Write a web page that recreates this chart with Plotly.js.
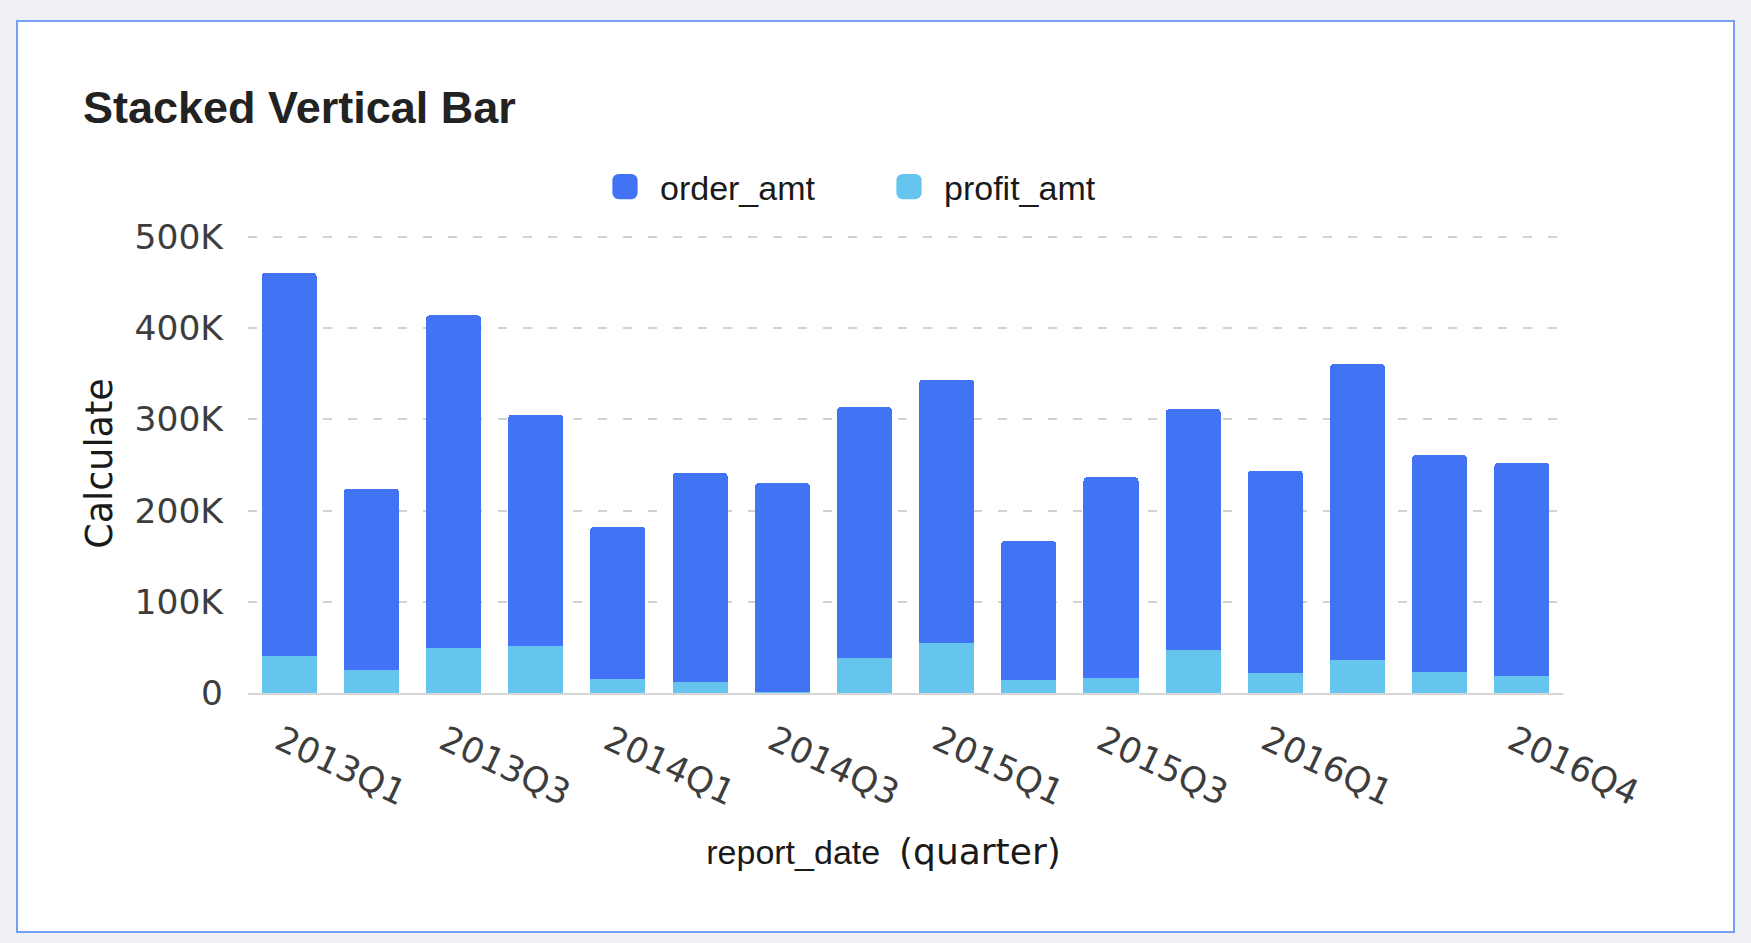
<!DOCTYPE html>
<html>
<head>
<meta charset="utf-8">
<script src="https://cdn.plot.ly/plotly-3.0.1.min.js"></script>
<style>
  html, body { margin: 0; padding: 0; width: 1751px; height: 943px; background: #eef0f4; overflow: hidden; }
  #card { position: absolute; left: 16px; top: 20px; width: 1715px; height: 909px; background: #ffffff; border: 2px solid #76a0f4; }
  #chart { position: absolute; left: 0; top: 0; width: 1751px; height: 943px; }
</style>
</head>
<body>
<div id="card"></div>
<div id="chart"></div>
<script>
// ---- data ----
const quarters = ['2013Q1','2013Q2','2013Q3','2013Q4','2014Q1','2014Q2','2014Q3','2014Q4',
                  '2015Q1','2015Q2','2015Q3','2015Q4','2016Q1','2016Q2','2016Q3','2016Q4'];
const orderAmt = [420100, 199100, 364400, 253900, 166400, 229400, 228400, 274900,
                  288000, 152600, 219900, 264200, 221700, 324600, 237900, 233800];
const profitAmt = [40300, 24900, 49400, 51300, 15800, 12100, 1500, 38400,
                   55300, 13900, 16500, 46900, 22000, 35900, 22700, 18300];
const yTickVals = [0, 100000, 200000, 300000, 400000, 500000];
const yTickText = ['0', '100K', '200K', '300K', '400K', '500K'];
const xTickVals = ['2013Q1','2013Q3','2014Q1','2014Q3','2015Q1','2015Q3','2016Q1','2016Q4'];

const W = 1751, H = 943;
const NB = '\u00a0';

const traces = [
  { type: 'bar', name: 'profit_amt', x: quarters, y: profitAmt,
    marker: { color: '#65c5ef' }, hoverinfo: 'x+y+name' },
  { type: 'bar', name: 'order_amt', x: quarters, y: orderAmt,
    marker: { color: '#4373f5' }, hoverinfo: 'x+y+name' }
];

const layout = {
  width: W, height: H,
  paper_bgcolor: 'rgba(0,0,0,0)', plot_bgcolor: 'rgba(0,0,0,0)',
  margin: { l: 248, r: 188, t: 234, b: 250, pad: 0 },
  barmode: 'stack', bargap: 0.33, barcornerradius: 4,
  title: {
    text: 'Stacked Vertical Bar',
    font: { family: 'Liberation Sans', size: 45, color: '#222222', weight: 'bold' },
    xref: 'container', yref: 'container', x: 83 / W, xanchor: 'left',
    y: 1 - 107 / H, yanchor: 'middle'
  },
  legend: {
    orientation: 'h', traceorder: 'reversed',
    xref: 'container', yref: 'container',
    x: 590 / W, xanchor: 'left', y: 1 - 187 / H, yanchor: 'middle',
    font: { family: 'Liberation Sans', size: 34, color: '#1a1a1a' },
    itemwidth: 60,
    entrywidth: 209, entrywidthmode: 'pixels', bgcolor: 'rgba(0,0,0,0)'
  },
  xaxis: {
    type: 'category', categoryorder: 'array', categoryarray: quarters,
    tickmode: 'array', tickvals: xTickVals, ticktext: xTickVals,
    tickangle: 25, tickfont: { family: 'DejaVu Sans', size: 35, color: '#3d3d3d' },
    ticks: '', showgrid: false,
    showline: true, linecolor: '#d6d6d6', linewidth: 2,
    ticklabelstandoff: 12, ticklabelshift: -9,
    title: {
      text: 'report_date' + NB + NB + '<span style="font-family:DejaVu Sans;font-size:36px">(quarter)</span>',
      font: { family: 'Liberation Sans', size: 34, color: '#1a1a1a' }, standoff: 28
    },
    fixedrange: true
  },
  yaxis: {
    range: [0, 503000], tickmode: 'array', tickvals: yTickVals, ticktext: yTickText,
    tickfont: { family: 'DejaVu Sans', size: 34.5, color: '#3d3d3d' },
    ticks: '', ticklabelstandoff: 24,
    showgrid: true, gridcolor: '#d2d2d2', gridwidth: 2, griddash: '9px,16px',
    zeroline: false, showline: false,
    title: { text: 'Calculate', font: { family: 'DejaVu Sans', size: 36.5, color: '#1a1a1a' }, standoff: 10 },
    fixedrange: true
  },
  showlegend: true
};

Plotly.newPlot('chart', traces, layout, { displayModeBar: false, responsive: false }).then(function () {
  document.querySelectorAll('#chart .legend .legendpoints path').forEach(function (p) {
    const old = p.getAttribute('transform') || '';
    p.setAttribute('transform', old + ' scale(2.1)');
  });
  const xt = document.querySelector('#chart .g-xtitle');
  if (xt) {
    const old = xt.getAttribute('transform') || '';
    xt.setAttribute('transform', old + ' translate(-22,0)');
  }
});
</script>
</body>
</html>
